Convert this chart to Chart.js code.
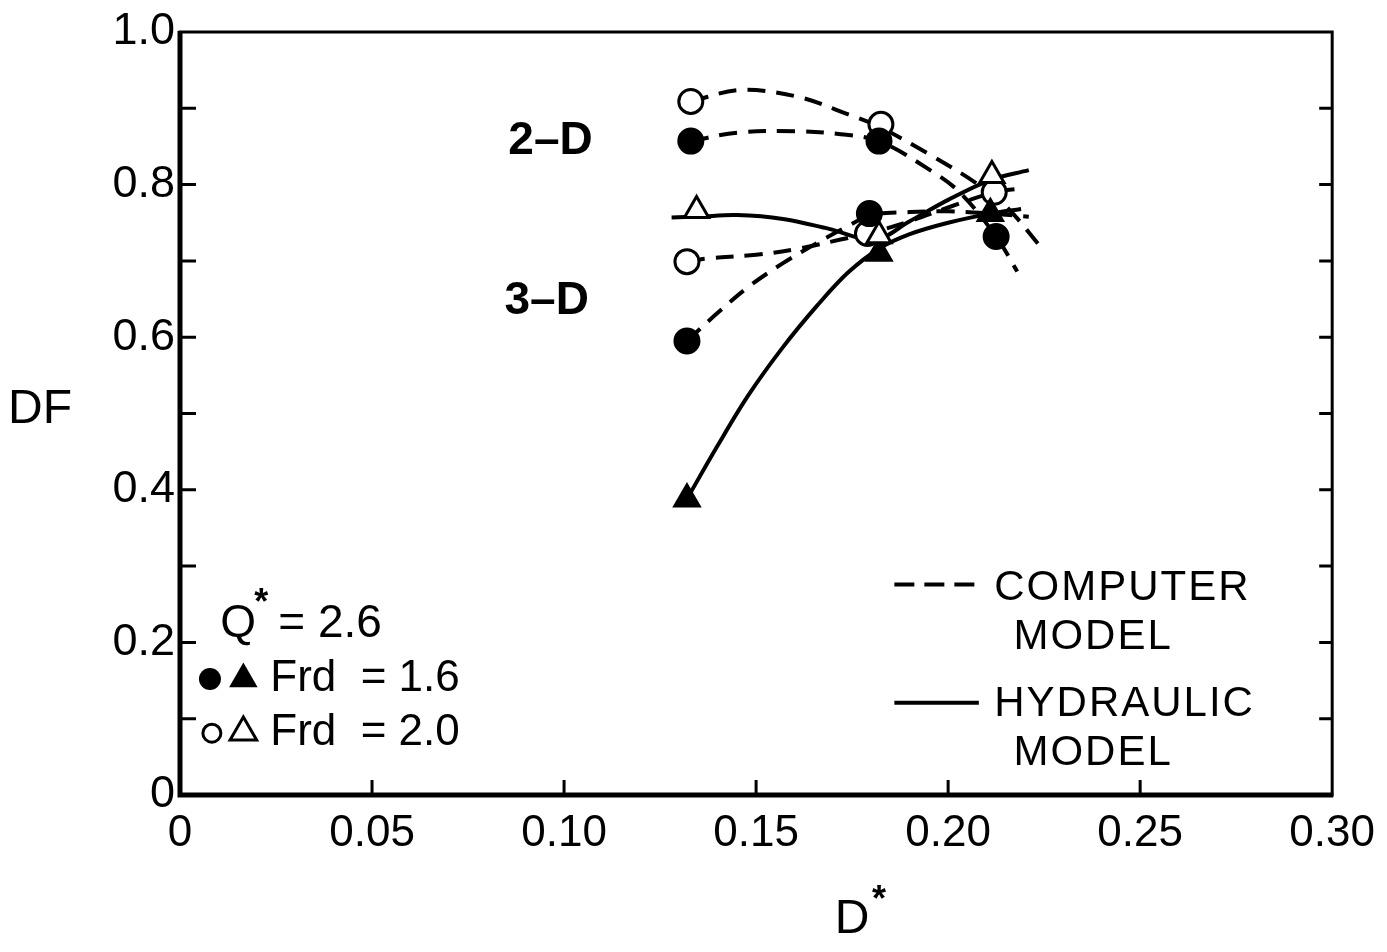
<!DOCTYPE html>
<html>
<head>
<meta charset="utf-8">
<script src="https://cdn.jsdelivr.net/npm/chart.js@4.4.1/dist/chart.umd.min.js"></script>
<style>
  html, body { margin: 0; padding: 0; background: #fff; }
  #wrap { width: 1387px; height: 952px; }
</style>
</head>
<body>
<div id="wrap"><canvas id="df-chart"></canvas></div>
<script>
// axis ticks
const xTicks = [0, 0.05, 0.10, 0.15, 0.20, 0.25, 0.30];
const xTickLabels = ['0', '0.05', '0.10', '0.15', '0.20', '0.25', '0.30'];
const yTicks = [0, 0.1, 0.2, 0.3, 0.4, 0.5, 0.6, 0.7, 0.8, 0.9, 1.0];
const yTickLabels = ['0', '', '0.2', '', '0.4', '', '0.6', '', '0.8', '', '1.0'];

// 2-D, computer model (dashed curves)
const cm2dFr20X = [0.133, 0.146, 0.161, 0.174, 0.182, 0.195, 0.207, 0.215, 0.224];
const cm2dFr20Y = [0.909, 0.924, 0.915, 0.892, 0.876, 0.840, 0.803, 0.772, 0.719];
const cm2dFr16X = [0.133, 0.145, 0.160, 0.172, 0.182, 0.195, 0.203, 0.2125, 0.218];
const cm2dFr16Y = [0.857, 0.868, 0.870, 0.866, 0.857, 0.820, 0.790, 0.732, 0.686];

// 3-D, computer model (dashed curves)
const cm3dFr20X = [0.132, 0.137, 0.150, 0.161, 0.172, 0.180, 0.190, 0.200, 0.212, 0.219];
const cm3dFr20Y = [0.699, 0.703, 0.708, 0.716, 0.728, 0.737, 0.752, 0.770, 0.790, 0.795];
const cm3dFr16X = [0.132, 0.140, 0.148, 0.157, 0.165, 0.173, 0.180, 0.190, 0.200, 0.211, 0.221];
const cm3dFr16Y = [0.595, 0.632, 0.666, 0.697, 0.721, 0.743, 0.760, 0.764, 0.765, 0.762, 0.758];

// 3-D, hydraulic model (solid curves)
const hmFr20X = [0.128, 0.135, 0.145, 0.157, 0.169, 0.181, 0.190, 0.200, 0.211, 0.221];
const hmFr20Y = [0.757, 0.758, 0.760, 0.755, 0.742, 0.728, 0.752, 0.780, 0.806, 0.819];
const hmFr16X = [0.132, 0.140, 0.148, 0.157, 0.166, 0.174, 0.182, 0.190, 0.200, 0.211, 0.219];
const hmFr16Y = [0.388, 0.458, 0.524, 0.587, 0.642, 0.685, 0.716, 0.735, 0.750, 0.762, 0.768];

// measured / plotted points
const filledCircleX = [0.133, 0.182, 0.132, 0.1795, 0.2125];
const filledCircleY = [0.857, 0.857, 0.595, 0.762, 0.732];
const openCircleX = [0.133, 0.1825, 0.132, 0.179, 0.212];
const openCircleY = [0.909, 0.879, 0.699, 0.736, 0.790];
const openTriX = [0.1345, 0.182, 0.2114];
const openTriY = [0.766, 0.733, 0.812];
const filledTriX = [0.132, 0.182, 0.211];
const filledTriY = [0.388, 0.710, 0.762];

const FONT = '"Liberation Sans", Arial, sans-serif';

const pts = (xs, ys) => xs.map((x, i) => ({ x: x, y: ys[i] }));

const curve = (xs, ys, dashed) => ({
  data: pts(xs, ys),
  showLine: true,
  borderColor: '#000',
  borderWidth: 4,
  borderDash: dashed ? [18, 11] : [],
  tension: 0.35,
  pointRadius: 0,
  order: 10
});

const marker = (xs, ys, style, filled, radius, order) => ({
  data: pts(xs, ys),
  showLine: false,
  pointStyle: style,
  pointRadius: radius,
  pointBackgroundColor: filled ? '#000' : '#fff',
  pointBorderColor: '#000',
  pointBorderWidth: 3,
  order: order
});

// frame, inward ticks, axis titles and notes
const overlay = {
  id: 'overlay',
  afterDraw(chart) {
    const { ctx, chartArea: a, scales: { x, y } } = chart;
    const at = (dx, dy) => [x.getPixelForValue(dx), y.getPixelForValue(dy)];
    ctx.save();
    ctx.strokeStyle = '#000';
    ctx.fillStyle = '#000';

    ctx.lineWidth = 3;
    ctx.strokeRect(a.left, a.top, a.right - a.left, a.bottom - a.top);
    ctx.lineWidth = 5;
    ctx.beginPath();
    ctx.moveTo(a.left, a.top - 1);
    ctx.lineTo(a.left, a.bottom);
    ctx.lineTo(a.right + 1, a.bottom);
    ctx.stroke();

    ctx.lineWidth = 3;
    ctx.beginPath();
    yTicks.slice(1, -1).forEach(v => {
      const py = y.getPixelForValue(v);
      ctx.moveTo(a.left, py); ctx.lineTo(a.left + 16, py);
      ctx.moveTo(a.right, py); ctx.lineTo(a.right - 13, py);
    });
    xTicks.slice(1, -1).forEach(v => {
      const px = x.getPixelForValue(v);
      ctx.moveTo(px, a.bottom); ctx.lineTo(px, a.bottom - 15);
    });
    ctx.stroke();

    ctx.textBaseline = 'middle';
    ctx.textAlign = 'center';
    ctx.font = '48px ' + FONT;
    ctx.fillText('DF', 40, 410);
    const dPos = at(0.175, 0);
    ctx.fillText('D', dPos[0], 920);
    ctx.font = 'bold 36px ' + FONT;
    ctx.fillText('*', dPos[0] + 27, 901);

    ctx.textAlign = 'left';
    ctx.font = 'bold 46px ' + FONT;
    let p = at(0.0855, 0.857);
    ctx.fillText('2\u2013D', p[0], p[1]);
    p = at(0.0845, 0.647);
    ctx.fillText('3\u2013D', p[0], p[1]);

    // line-style key
    ctx.font = '42px ' + FONT;
    ctx.letterSpacing = '2px';
    p = at(0.212, 0.271); ctx.fillText('COMPUTER', p[0], p[1]);
    p = at(0.217, 0.206); ctx.fillText('MODEL', p[0], p[1]);
    p = at(0.212, 0.119); ctx.fillText('HYDRAULIC', p[0], p[1]);
    p = at(0.217, 0.054); ctx.fillText('MODEL', p[0], p[1]);
    ctx.letterSpacing = '0px';
    ctx.lineWidth = 4;
    let p0 = at(0.186, 0.276), p1 = at(0.208, 0.276);
    ctx.setLineDash([20, 10]);
    ctx.beginPath(); ctx.moveTo(p0[0], p0[1]); ctx.lineTo(p1[0], p1[1]); ctx.stroke();
    ctx.setLineDash([]);
    p0 = at(0.186, 0.121); p1 = at(0.208, 0.121);
    ctx.beginPath(); ctx.moveTo(p0[0], p0[1]); ctx.lineTo(p1[0], p1[1]); ctx.stroke();

    // symbol key
    ctx.font = '46px ' + FONT;
    p = at(0.0105, 0.224);
    ctx.fillText('Q', p[0], p[1]);
    ctx.font = 'bold 36px ' + FONT;
    ctx.fillText('*', p[0] + 34, p[1] - 20);
    ctx.font = '46px ' + FONT;
    ctx.fillText('= 2.6', p[0] + 58, p[1]);

    const tri = (cx, cy, r, filled) => {
      ctx.beginPath();
      ctx.moveTo(cx, cy - r);
      ctx.lineTo(cx + r * 0.95, cy + r * 0.65);
      ctx.lineTo(cx - r * 0.95, cy + r * 0.65);
      ctx.closePath();
      if (filled) ctx.fill(); else ctx.stroke();
    };
    ctx.font = '44px ' + FONT;
    p = at(0.0078, 0.152);
    ctx.beginPath(); ctx.arc(p[0], p[1], 11, 0, Math.PI * 2); ctx.fill();
    p = at(0.0165, 0.154);
    tri(p[0], p[1], 15, true);
    p = at(0.0235, 0.152);
    ctx.fillText('Frd  = 1.6', p[0], p[1]);

    ctx.lineWidth = 3;
    p = at(0.0083, 0.081);
    ctx.beginPath(); ctx.arc(p[0], p[1], 9, 0, Math.PI * 2); ctx.stroke();
    p = at(0.0165, 0.084);
    tri(p[0], p[1], 14, false);
    p = at(0.0235, 0.081);
    ctx.fillText('Frd  = 2.0', p[0], p[1]);

    ctx.restore();
  }
};

new Chart(document.getElementById('df-chart'), {
  type: 'scatter',
  data: {
    datasets: [
      marker(filledTriX, filledTriY, 'triangle', true, 14, 4),
      marker(openTriX, openTriY, 'triangle', false, 14, 3),
      marker(filledCircleX, filledCircleY, 'circle', true, 12, 2),
      marker(openCircleX, openCircleY, 'circle', false, 12, 5),
      curve(cm2dFr20X, cm2dFr20Y, true),
      curve(cm2dFr16X, cm2dFr16Y, true),
      curve(cm3dFr20X, cm3dFr20Y, true),
      curve(cm3dFr16X, cm3dFr16Y, true),
      curve(hmFr20X, hmFr20Y, false),
      curve(hmFr16X, hmFr16Y, false)
    ]
  },
  options: {
    responsive: true,
    maintainAspectRatio: false,
    animation: false,
    layout: { padding: { top: 27, right: 52, left: 0, bottom: 0 } },
    plugins: { legend: { display: false }, tooltip: { enabled: false } },
    scales: {
      x: {
        type: 'linear', min: 0, max: 0.30,
        afterBuildTicks: s => { s.ticks = xTicks.map(v => ({ value: v })); },
        afterFit: s => { s.height = 157; },
        grid: { display: false, drawTicks: false },
        border: { display: false },
        ticks: {
          padding: 12, color: '#000', font: { family: FONT, size: 44 },
          maxRotation: 0, autoSkip: false,
          callback: (v, i) => xTickLabels[i]
        }
      },
      y: {
        type: 'linear', min: 0, max: 1.0,
        afterBuildTicks: s => { s.ticks = yTicks.map(v => ({ value: v })); },
        afterFit: s => { s.width = 180; },
        grid: { display: false, drawTicks: false },
        border: { display: false },
        ticks: {
          padding: 5, color: '#000', font: { family: FONT, size: 45 },
          autoSkip: false,
          callback: (v, i) => yTickLabels[i]
        }
      }
    }
  },
  plugins: [overlay]
});
</script>
</body>
</html>
